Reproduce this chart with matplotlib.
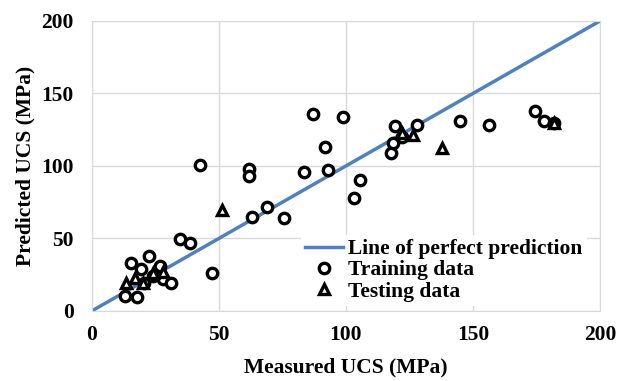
import matplotlib
matplotlib.use("Agg")
import matplotlib.pyplot as plt

# measured vs predicted UCS (MPa)
train_measured = [13.0, 17.6, 15.4, 22.6, 19.3, 26.8, 28.1, 31.1, 23.9, 20.6,
                  34.6, 38.6, 42.5, 47.1, 61.8, 61.8, 62.9, 68.8, 75.6, 83.6,
                  86.9, 91.7, 93.0, 98.9, 103.3, 105.5, 117.8, 118.4, 119.3, 122.2,
                  127.9, 144.9, 156.4, 174.6, 177.8, 182.0]
train_predicted = [10.5, 9.7, 33.0, 37.9, 28.7, 31.0, 21.9, 19.5, 24.1, 19.1,
                   49.5, 47.1, 100.7, 26.0, 98.0, 93.0, 64.6, 72.0, 64.0, 96.1,
                   135.6, 113.3, 97.0, 134.0, 78.0, 90.5, 108.8, 115.8, 127.4, 120.0,
                   128.4, 131.0, 128.3, 138.0, 131.2, 129.9]

test_measured = [13.4, 16.9, 20.2, 24.1, 27.8, 51.4, 121.9, 126.5, 137.9, 182.0]
test_predicted = [19.5, 22.5, 19.5, 26.0, 27.1, 69.7, 122.5, 121.4, 112.2, 129.5]

perfect = [0, 200]
ticks = [0, 50, 100, 150, 200]

plt.rcParams['font.family'] = ['Liberation Serif', 'DejaVu Serif']
plt.rcParams['font.weight'] = 'bold'
fs = 15.5

fig = plt.figure(figsize=(6.25, 3.81), dpi=100)
ax = fig.add_axes([0.147, 0.184, 0.813, 0.761])

ax.plot(perfect, perfect, color='#4f81bd', linewidth=2.5, label='Line of perfect prediction', zorder=2)
ax.plot(train_measured, train_predicted, linestyle='none', marker='o', markersize=7.5,
        markerfacecolor='white', markeredgecolor='black', markeredgewidth=2.4,
        label='Training data', zorder=3)
ax.plot(test_measured, test_predicted, linestyle='none', marker='^', markersize=7.5,
        markerfacecolor='white', markeredgecolor='black', markeredgewidth=2.4,
        label='Testing data', zorder=3)

ax.set_xlim(0, 200)
ax.set_ylim(0, 200)
ax.set_xticks(ticks, labels=[str(t) for t in ticks], fontsize=fs, fontweight='bold')
ax.set_yticks(ticks, labels=[str(t) for t in ticks], fontsize=fs, fontweight='bold')
ax.tick_params(length=0)
ax.tick_params(axis='x', pad=10)
ax.tick_params(axis='y', pad=13)

ax.grid(True, color='#d9d9d9', linewidth=1)
ax.set_axisbelow(True)
for s in ax.spines.values():
    s.set_color('#d9d9d9')

ax.set_xlabel('Measured UCS (MPa)', fontsize=fs, fontweight='bold', labelpad=9)
ax.set_ylabel('Predicted UCS (MPa)', fontsize=fs, fontweight='bold', labelpad=4)

ax.legend(loc='upper left', bbox_to_anchor=(0.411, 0.262),
          frameon=True, edgecolor='none', facecolor='white', framealpha=1,
          handlelength=1.75, handletextpad=0.25, labelspacing=0.05,
          borderpad=0.2, borderaxespad=0, prop={'weight': 'bold', 'size': fs})

fig.savefig('out.png', dpi=100)
